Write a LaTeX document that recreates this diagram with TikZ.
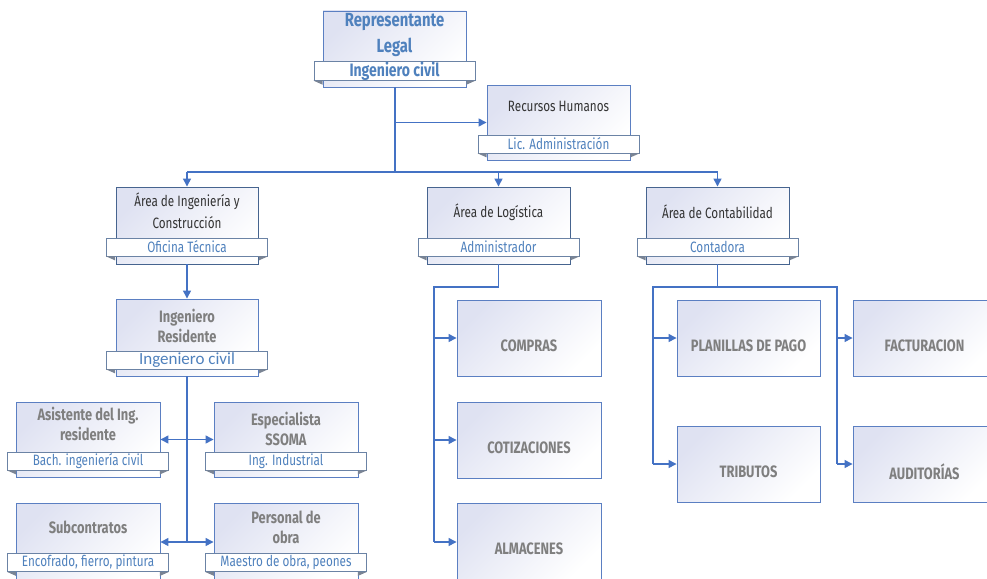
\documentclass[tikz,border=0pt]{standalone}
\usepackage{fontspec}
\setmainfont{Carlito}
\newfontfamily\agency[FakeStretch=0.78]{Fira Sans}
\usetikzlibrary{arrows.meta}
\definecolor{linkblue}{HTML}{4472C4}
\definecolor{edgeblue}{HTML}{5B7FC2}
\definecolor{edgedark}{HTML}{46648F}
\definecolor{lav}{HTML}{DFE2F2}
\definecolor{labelblue}{HTML}{4F81BD}
\definecolor{titledark}{HTML}{333333}
\definecolor{titlegray}{HTML}{7F7F7F}
\definecolor{foldgray}{HTML}{7A8494}
\tikzset{
  unit/.style={draw=#1, line width=0.9pt, top color=lav, bottom color=white,
    shading angle=45, inner sep=0pt},
  unit/.default=edgeblue,
  ribbon/.style={draw=edgedark!80, line width=0.8pt, fill=white, inner sep=0pt,
    minimum width=161pt, minimum height=18pt, text=labelblue,
    font=\agency\fontsize{15}{15}\selectfont},
  headtext/.style={align=center, text=titledark, inner sep=0pt,
    font=\agency\fontsize{15}{22}\selectfont},
  graytext/.style={align=center, text=titlegray, inner sep=0pt,
    font=\agency\bfseries\fontsize{16.5}{20}\selectfont},
  link/.style={draw=linkblue, line width=1.3pt},
  arr/.style={link, -{Triangle[length=8pt,width=8pt]}},
  darr/.style={link, {Triangle[length=8pt,width=8pt]}-{Triangle[length=8pt,width=8pt]}}
}
\newcommand\ribbonfolds[1]{%
  \fill[foldgray] (#1.south west) -- ++(9,0) -- ++(0,4) -- cycle;
  \fill[foldgray] (#1.south east) -- ++(-9,0) -- ++(0,4) -- cycle;}
\begin{document}
\begin{tikzpicture}[x=1pt,y=-1pt]
\useasboundingbox (0,0) rectangle (987,578);
\clip (0,0) rectangle (987,578);

% ---------- units with a ribbon ----------
\node[unit, minimum width=143pt, minimum height=76pt] (rl) at (394.5,49) {};
\node[unit, minimum width=143pt, minimum height=75pt] (rh) at (558.5,122.5) {};
\node[unit=edgedark, minimum width=142pt, minimum height=77pt] (ing) at (187,225.5) {};
\node[unit=edgedark, minimum width=143pt, minimum height=77pt] (log) at (498.5,225.5) {};
\node[unit=edgedark, minimum width=143pt, minimum height=77pt] (cont) at (717.5,225.5) {};
\node[unit, minimum width=142pt, minimum height=77pt] (res) at (187,337.5) {};
\node[unit, minimum width=144pt, minimum height=75pt] (asi) at (88,439.5) {};
\node[unit, minimum width=144pt, minimum height=75pt] (esp) at (286,439.5) {};
\node[unit, minimum width=144pt, minimum height=78pt] (sub) at (88,542) {};
\node[unit, minimum width=144pt, minimum height=78pt] (per) at (286,542) {};

\node[ribbon] (rlb) at (394.5,71) {\bfseries\fontsize{18}{18}\selectfont Ingeniero civil};
\node[ribbon] (rhb) at (558.5,144) {Lic. Administración};
\node[ribbon] (ingb) at (187,247) {Oficina Técnica};
\node[ribbon] (logb) at (498.5,247) {Administrador};
\node[ribbon] (contb) at (717.5,247) {Contadora};
\node[ribbon] (resb) at (187,360) {\rmfamily\fontsize{17}{17}\selectfont Ingeniero civil};
\node[ribbon] (asib) at (88,461) {Bach. ingeniería civil};
\node[ribbon] (espb) at (286,461) {Ing. Industrial};
\node[ribbon] (subb) at (88,562.5) {Encofrado, fierro, pintura};
\node[ribbon] (perb) at (286,562.5) {Maestro de obra, peones};
\foreach \b in {rlb,rhb,ingb,logb,contb,resb,asib,espb,subb,perb}{\ribbonfolds{\b}}

% ---------- titles ----------
\node[headtext, text=labelblue, font=\agency\bfseries\fontsize{19}{26}\selectfont] (rlt) at (394.5,35) {Representante\\Legal};
\node[headtext] (rht) at (558.5,106) {Recursos Humanos};
\node[headtext] (ingt) at (187,211) {Área de Ingeniería y\\Construcción};
\node[headtext] (logt) at (498.5,212) {Área de Logística};
\node[headtext] (contt) at (717.5,212) {Área de Contabilidad};
\node[graytext] (rest) at (187,326) {Ingeniero\\Residente};
\node[graytext] (asit) at (88,424) {Asistente del Ing.\\residente};
\node[graytext] (espt) at (286,429) {Especialista\\SSOMA};
\node[graytext] (subt) at (88,527) {Subcontratos};
\node[graytext] (pert) at (286,527) {Personal de\\obra};

% ---------- plain units ----------
\node[unit, minimum width=144pt, minimum height=76pt] (com) at (529,338) {};
\node[unit, minimum width=144pt, minimum height=76pt] (cot) at (529,440) {};
\node[unit, minimum width=144pt, minimum height=78pt] (alm) at (529,542) {};
\node[unit, minimum width=143pt, minimum height=76pt] (pla) at (748.5,338) {};
\node[unit, minimum width=143pt, minimum height=76pt] (tri) at (748.5,464) {};
\node[unit, minimum width=143pt, minimum height=76pt] (fac) at (924.5,338) {};
\node[unit, minimum width=143pt, minimum height=76pt] (aud) at (924.5,464) {};
\node[graytext] (comt) at (529,346) {COMPRAS};
\node[graytext] (cott) at (529,448) {COTIZACIONES};
\node[graytext] (almt) at (529,549) {ALMACENES};
\node[graytext] (plat) at (748.5,346) {PLANILLAS DE PAGO};
\node[graytext] (trit) at (748.5,472) {TRIBUTOS};
\node[graytext] (fact) at (924.5,346) {FACTURACION};
\node[graytext] (audt) at (924.5,472) {AUDITORÍAS};

% ---------- connectors ----------
\coordinate (top) at (395,172);
\coordinate (rhj) at (395,122.5);
\coordinate (hl) at (187,172);
\coordinate (hm) at (498.5,172);
\coordinate (hr) at (717.5,172);
\draw[link] (rl.south -| top) -- (top);
\draw[arr] (rhj) -- (rh.west);
\draw[link] (hl) -- (hr);
\draw[arr] (hl) -- (ing.north);
\draw[arr] (hm) -- (log.north);
\draw[arr] (hr) -- (cont.north);

\draw[arr] (ing.south) -- (res.north);
\coordinate (resend) at (187,542);
\draw[link] (res.south) -- (resend);
\draw[darr] (asi.east) -- (esp.west);
\draw[darr] (sub.east) -- (per.west);

\coordinate (lk) at (498.5,287);
\coordinate (lx) at (434,287);
\coordinate (lend) at (434,542);
\draw[link] (log.south) -- (lk) -- (lx) -- (lend);
\draw[arr] (lx |- com.west) -- (com.west);
\draw[arr] (lx |- cot.west) -- (cot.west);
\draw[arr] (lend) -- (alm.west);

\coordinate (ck) at (717.5,287);
\coordinate (cl) at (653,287);
\coordinate (cr) at (837,287);
\draw[link] (cont.south) -- (ck);
\draw[link] (cl |- tri.west) -- (cl) -- (cr) -- (cr |- aud.west);
\draw[arr] (cl |- pla.west) -- (pla.west);
\draw[arr] (cl |- tri.west) -- (tri.west);
\draw[arr] (cr |- fac.west) -- (fac.west);
\draw[arr] (cr |- aud.west) -- (aud.west);
\end{tikzpicture}
\end{document}
